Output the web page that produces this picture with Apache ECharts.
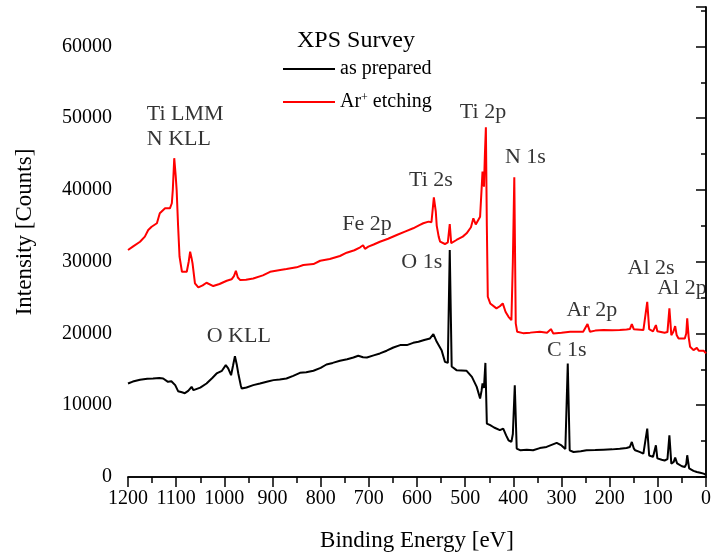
<!DOCTYPE html>
<html>
<head>
<meta charset="utf-8">
<script src="https://cdn.jsdelivr.net/npm/echarts@6/dist/echarts.min.js"></script>
<style>
html,body{margin:0;padding:0;background:#fff;}
#chart{width:712px;height:556px;}
</style>
</head>
<body>
<div id="chart"></div>
<script>
// Binding energy [eV], intensity [counts]
const asPrepared = [
[1200,13030],[1190,13300],[1175,13550],[1160,13700],[1148,13730],[1135,13800],[1127,13730],[1117,13260],[1110,13350],[1106,13550],[1102,12800],[1096,11960],[1088,11800],[1082,11680],[1075,12000],[1068,12560],[1064,12100],[1061,12000],[1050,12450],[1037,13030],[1025,13800],[1016,14430],[1005,14800],[997,15590],[992,15130],[986,14190],[982,15500],[978,16840],[974,15600],[971,14430],[966,12800],[964,12330],[954,12480],[940,12800],[926,13030],[910,13300],[898,13500],[885,13600],[871,13730],[857,14100],[843,14520],[830,14600],[815,14800],[800,15200],[788,15680],[775,15900],[760,16190],[745,16400],[732,16660],[722,16900],[718,17080],[712,16700],[704,16660],[690,16950],[677,17220],[663,17600],[649,18050],[635,18380],[621,18380],[608,18700],[597,18840],[585,19100],[573,19310],[566,19910],[559,18840],[549,17680],[542,16050],[536,15900],[532,31630],[528,15400],[518,14890],[497,14800],[486,13950],[476,12560],[469,10940],[466,12000],[464,13030],[461,12400],[458,15900],[455,7450],[448,7220],[440,6900],[428,6520],[421,6750],[415,5800],[410,5120],[404,4890],[401,6000],[397,12790],[393,3960],[385,3720],[372,3800],[359,3720],[345,4030],[331,4190],[310,4750],[300,4400],[292,3900],[287,15820],[283,3720],[275,3490],[260,3600],[248,3720],[230,3750],[213,3800],[195,3850],[179,3950],[165,4050],[158,4190],[154,4880],[150,4000],[147,3720],[138,3500],[130,3260],[126,3400],[122,6750],[118,3000],[116,2790],[110,2800],[106,3000],[104,4420],[101,2600],[100,2420],[92,2400],[86,2300],[80,2500],[76,5820],[72,1870],[67,2100],[64,2700],[60,1900],[57,1630],[50,1500],[44,1400],[41,1800],[39,3030],[35,1200],[33,935],[26,850],[19,700],[12,600],[5,470],[0,300]
];
const arEtching = [
[1200,31630],[1190,32100],[1175,32790],[1165,33500],[1158,34420],[1151,34880],[1140,35360],[1134,36750],[1123,37450],[1113,37450],[1109,38150],[1107,40000],[1104,44430],[1101,42000],[1099,40000],[1096,35000],[1093,30700],[1088,28600],[1078,28600],[1074,30000],[1071,31400],[1068,30500],[1066,29780],[1061,26990],[1054,26420],[1045,26700],[1037,27070],[1023,26610],[1010,26900],[995,27350],[985,27550],[980,28000],[976,28740],[972,27800],[967,27440],[955,27500],[940,27670],[920,28100],[905,28600],[884,28840],[871,28980],[850,29220],[836,29540],[815,29680],[801,30140],[781,30380],[760,30800],[746,31260],[730,31600],[718,32010],[712,32300],[708,31800],[701,32100],[690,32400],[677,32790],[660,33200],[642,33720],[625,34200],[608,34660],[595,35100],[587,35360],[576,35590],[570,35500],[565,38980],[561,37000],[559,35000],[555,33500],[552,32790],[542,32470],[536,32700],[532,35260],[529,32600],[518,33030],[505,33500],[497,33960],[488,34800],[483,36050],[478,35200],[475,35360],[469,36280],[466,40000],[464,42560],[461,40460],[459,45000],[457,48750],[455,35000],[453,25120],[448,24190],[435,23500],[428,23800],[422,24190],[416,23000],[410,22320],[404,21860],[401,30000],[398,41770],[395,21400],[392,20230],[380,20050],[365,20120],[345,20230],[330,20100],[322,20610],[317,20010],[300,20100],[282,20230],[255,20250],[246,21310],[241,20250],[230,20400],[213,20470],[195,20450],[179,20470],[165,20550],[158,20610],[154,21310],[150,20600],[147,20470],[130,20470],[126,20500],[122,24420],[118,20600],[116,20470],[110,20300],[106,20500],[104,21170],[101,20300],[100,20200],[86,20100],[80,20200],[76,23500],[72,19770],[68,20200],[64,21030],[61,19800],[57,19310],[44,19310],[41,20000],[39,22100],[36,19500],[33,18140],[26,17680],[22,17900],[19,18000],[15,17600],[12,17440],[5,17600],[0,17220]
];
const seriesNames = ['as prepared', 'Ar+ etching'];
const peakLabels = ['O KLL', 'Fe 2p', 'Ti 2s', 'O 1s', 'Ti 2p', 'N 1s', 'C 1s', 'Ar 2p', 'Al 2s', 'Al 2p'];
const peakLabelE = [970, 704, 571, 590, 463, 375, 289, 237, 114, 50];
const peakLabelI = [19630, 35230, 41400, 30000, 50820, 44540, 17680, 23260, 29125, 26330];
const augerLabel = 'Ti LMM\nN KLL';
const augerLabelPos = [1161, 48860];
const xTicks = {min: 0, max: 1200, interval: 100};
const yTicks = {min: 0, max: 65500, interval: 10000};

const FONT = '"Liberation Serif", "Times New Roman", serif';
const chart = echarts.init(document.getElementById('chart'), null, {renderer: 'canvas'});

const axisLine = {show: true, lineStyle: {color: '#000', width: 1.5}};
const plain = function (v) { return String(v); };
const option = {
  animation: false,
  backgroundColor: '#fff',
  title: {
    text: 'XPS Survey', left: 292, top: 24,
    textStyle: {fontFamily: FONT, fontSize: 24, fontWeight: 'normal', color: '#000'}
  },
  legend: {
    orient: 'vertical', left: 278, top: 54,
    itemWidth: 52, itemHeight: 2, itemGap: 13, icon: 'rect',
    data: seriesNames,
    formatter: function (n) {
      return n === 'Ar+ etching' ? '{n|Ar}{s|+}{n| etching}' : '{n|' + n + '}';
    },
    textStyle: {
      fontFamily: FONT, fontSize: 20, color: '#000',
      rich: {
        n: {fontFamily: FONT, fontSize: 20, color: '#000', lineHeight: 20},
        s: {fontFamily: FONT, fontSize: 12, color: '#000', verticalAlign: 'top', lineHeight: 20, padding: [0, 0, 10, 0]}
      }
    }
  },
  grid: {left: 128, right: 6, top: 7, bottom: 79, containLabel: false, outerBoundsMode: 'none'},
  xAxis: [{
    type: 'value', min: xTicks.min, max: xTicks.max, interval: xTicks.interval, inverse: true,
    position: 'bottom',
    name: 'Binding Energy [eV]', nameLocation: 'middle', nameGap: 52,
    nameTextStyle: {fontFamily: FONT, fontSize: 23, color: '#000'},
    axisLine: axisLine,
    axisTick: {show: true, inside: false, length: 9, lineStyle: {color: '#000', width: 1.5}},
    minorTick: {show: true, splitNumber: 2, length: 5, lineStyle: {color: '#000', width: 1.5}},
    axisLabel: {fontFamily: FONT, fontSize: 20, color: '#000', margin: 12, formatter: plain},
    splitLine: {show: false}
  }, {
    type: 'value', min: xTicks.min, max: xTicks.max, interval: xTicks.interval, inverse: true,
    position: 'top',
    axisLine: axisLine,
    axisTick: {show: true, inside: true, length: 10, lineStyle: {color: '#000', width: 1.5}},
    minorTick: {show: true, splitNumber: 2, length: 6, lineStyle: {color: '#000', width: 1.5}},
    axisLabel: {show: false},
    splitLine: {show: false}
  }],
  yAxis: [{
    type: 'value', min: yTicks.min, max: yTicks.max, interval: yTicks.interval,
    position: 'left',
    name: 'Intensity [Counts]', nameLocation: 'middle', nameGap: 92,
    nameTextStyle: {fontFamily: FONT, fontSize: 23, color: '#000', padding: [0, 0, 0, 20]},
    axisLine: axisLine,
    axisTick: {show: true, inside: false, length: 10, lineStyle: {color: '#000', width: 1.5}},
    minorTick: {show: true, splitNumber: 2, length: 5, lineStyle: {color: '#000', width: 1.5}},
    axisLabel: {fontFamily: FONT, fontSize: 20, color: '#000', margin: 16, showMaxLabel: false, formatter: plain},
    splitLine: {show: false}
  }, {
    type: 'value', min: yTicks.min, max: yTicks.max, interval: yTicks.interval / 2,
    position: 'right',
    axisLine: axisLine,
    axisTick: {show: true, inside: true, length: 5, lineStyle: {color: '#000', width: 1.5}},
    axisLabel: {show: false},
    splitLine: {show: false}
  }],
  series: [{
    name: seriesNames[0], type: 'line', data: asPrepared, showSymbol: false, symbol: 'none',
    lineStyle: {color: '#000', width: 2}, itemStyle: {color: '#000'}, z: 3
  }, {
    name: seriesNames[1], type: 'line', data: arEtching, showSymbol: false, symbol: 'none',
    lineStyle: {color: '#ff0000', width: 2}, itemStyle: {color: '#ff0000'}, z: 2
  }, {
    name: 'peaks', type: 'scatter', symbolSize: 0, silent: true,
    data: peakLabels.map(function (t, i) { return {value: [peakLabelE[i], peakLabelI[i]], name: t}; }),
    label: {show: true, position: 'inside', formatter: '{b}', fontFamily: FONT, fontSize: 22, color: '#000'}
  }, {
    name: 'auger', type: 'scatter', symbolSize: 0, silent: true,
    data: [{value: augerLabelPos, name: augerLabel}],
    label: {show: true, position: 'inside', align: 'left', verticalAlign: 'middle', lineHeight: 25,
      formatter: '{b}', fontFamily: FONT, fontSize: 22, color: '#000'}
  }]
};
chart.setOption(option);
</script>
</body>
</html>
